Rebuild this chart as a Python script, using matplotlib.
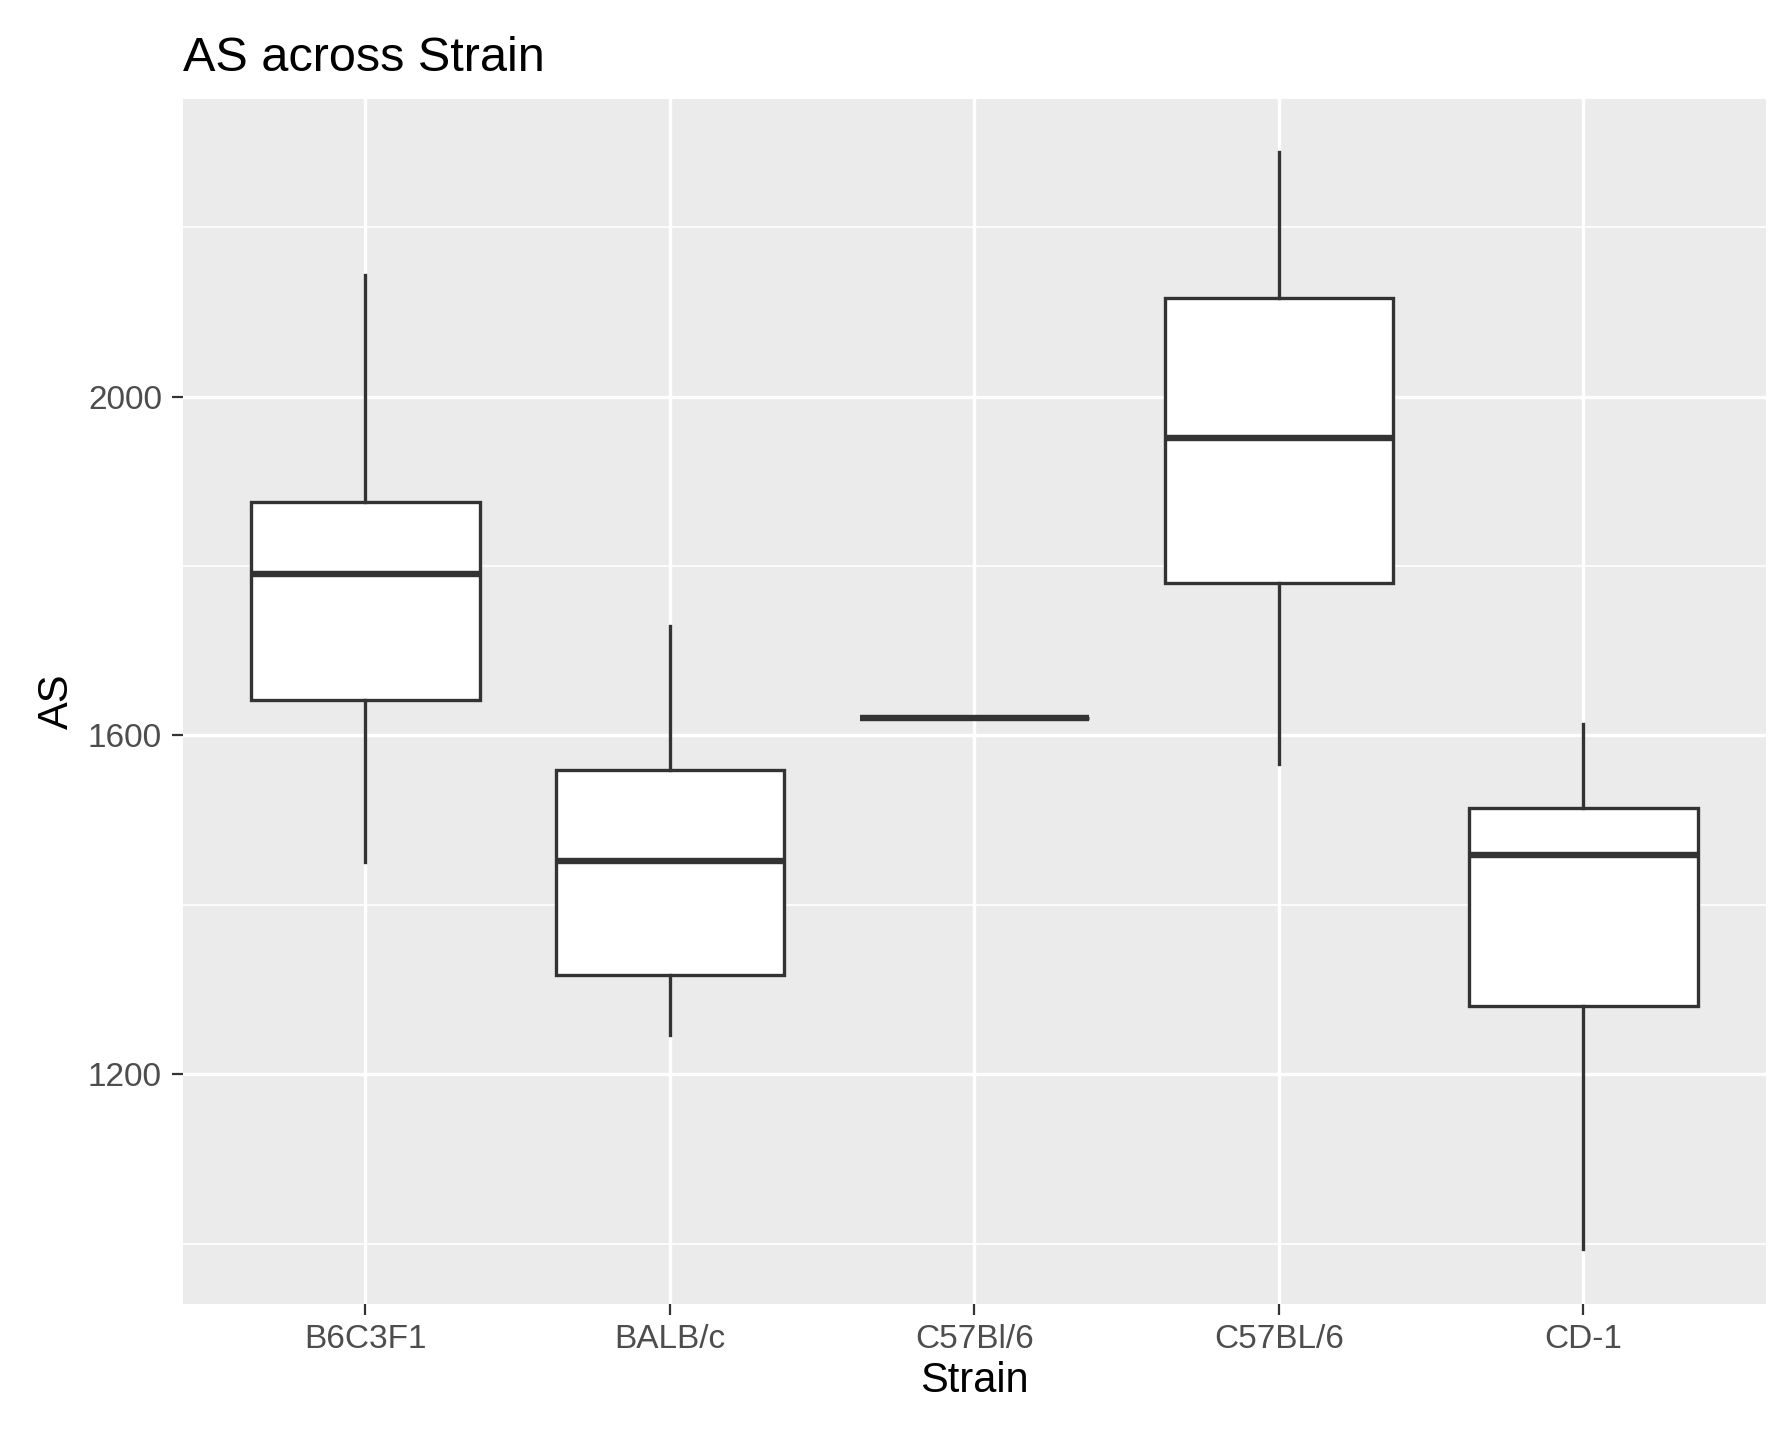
import matplotlib
matplotlib.use("Agg")
import matplotlib.pyplot as plt

plt.rcParams["font.family"] = ["Liberation Sans", "DejaVu Sans"]

strains = ["B6C3F1", "BALB/c", "C57Bl/6", "C57BL/6", "CD-1"]
whisker_low = [1450, 1246, 1621, 1566, 994]
q1 = [1642, 1317, 1621, 1780, 1280]
median = [1791, 1452, 1621, 1951, 1459]
q3 = [1876, 1559, 1621, 2117, 1514]
whisker_high = [2144, 1729, 1621, 2289, 1613]

stats = [
    {"whislo": lo, "q1": a, "med": m, "q3": b, "whishi": hi, "fliers": [], "label": s}
    for s, lo, a, m, b, hi in zip(strains, whisker_low, q1, median, q3, whisker_high)
]

fig = plt.figure(figsize=(8.905, 7.155), dpi=200)
ax = fig.add_axes([0.1026, 0.089, 0.889, 0.842])
ax.set_facecolor("#EBEBEB")
ax.set_axisbelow(True)

# minor grid lines
for y in [1000, 1400, 1800, 2200]:
    ax.axhline(y, color="white", lw=0.6, zorder=0)
ax.grid(True, color="white", lw=1.2, zorder=0)

ln = dict(color="#333333", lw=1.2)
ax.bxp(stats, positions=range(1, 6), widths=0.75, showfliers=False, showcaps=False,
       patch_artist=True,
       boxprops=dict(facecolor="white", edgecolor="#333333", lw=1.2),
       whiskerprops=ln, medianprops=dict(color="#333333", lw=2.3))

ax.set_xlim(0.4, 5.6)
ax.set_ylim(929, 2352)
ax.set_yticks([1200, 1600, 2000])
ax.set_xticks(range(1, 6))
ax.set_xticklabels(strains)
for sp in ax.spines.values():
    sp.set_visible(False)
ax.tick_params(colors="#333333", labelsize=12, length=4, width=0.8)
ax.tick_params(axis="both", labelcolor="#4D4D4D")
ax.set_xlabel("Strain", fontsize=15, labelpad=2)
ax.set_ylabel("AS", fontsize=15)
ax.set_title("AS across Strain", fontsize=17.5, loc="left", x=0.0, pad=10)

fig.savefig("out.png", dpi=200)
